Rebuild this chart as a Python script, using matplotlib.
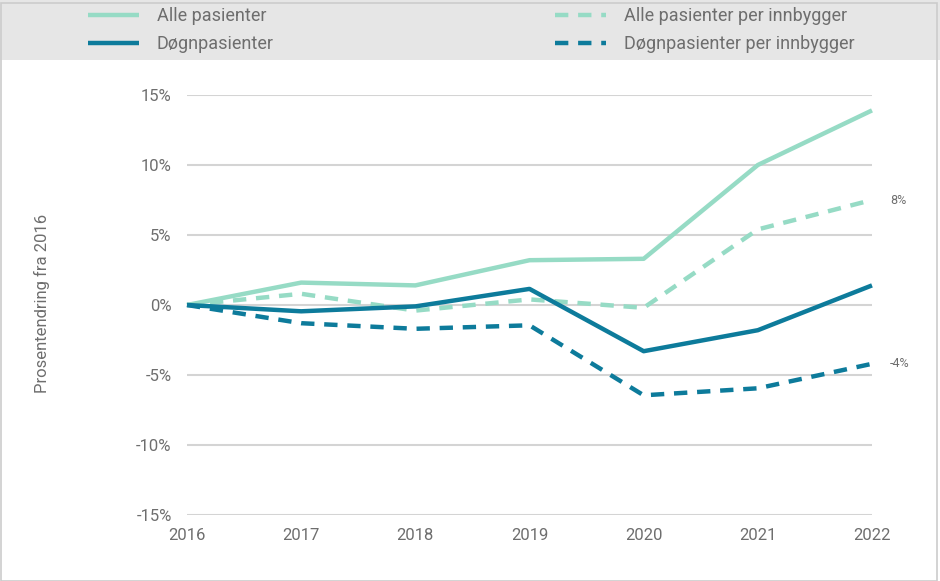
import matplotlib
matplotlib.use("Agg")
import matplotlib.pyplot as plt
from matplotlib.patches import Rectangle

plt.rcParams['font.family'] = ['Roboto', 'DejaVu Sans']

years = [2016, 2017, 2018, 2019, 2020, 2021, 2022]
alle = [0.0, 1.6, 1.4, 3.2, 3.3, 10.0, 13.9]
alle_per_innb = [0.0, 0.8, -0.4, 0.4, -0.2, 5.4, 7.5]
dogn = [0.0, -0.45, -0.1, 1.15, -3.3, -1.8, 1.4]
dogn_per_innb = [0.0, -1.3, -1.7, -1.45, -6.45, -5.95, -4.2]
yticks = [-15, -10, -5, 0, 5, 10, 15]

light = '#96dbc5'
dark = '#0d7b9b'
grid_c = '#d4d4d4'
txt_c = '#6e6e6e'
fw = 'normal'

fig = plt.figure(figsize=(9.4, 5.81), dpi=100)
fig.patch.set_facecolor('white')
fig.add_artist(Rectangle((0, 1 - 60 / 581), 1, 60 / 581, transform=fig.transFigure,
                         facecolor='#e6e6e6', edgecolor='none', zorder=0))
fig.add_artist(Rectangle((0.5 / 940, 0.5 / 581), 1 - 3.5 / 940, 1 - 3 / 581, transform=fig.transFigure,
                         facecolor='none', edgecolor='#cccccc', lw=1.2, zorder=5))

ax = fig.add_axes([187 / 940, 1 - 515 / 581, (872 - 187) / 940, (515 - 95) / 581])
ax.set_xlim(2016, 2022)
ax.set_ylim(-15, 15)
ax.set_yticks(yticks)
ax.set_yticklabels([f"{t}%" for t in yticks])
ax.set_xticks(years)
ax.set_xticklabels([str(y) for y in years])
ax.grid(axis='y', color=grid_c, lw=1.5)
ax.set_axisbelow(True)
for s in ax.spines.values():
    s.set_visible(False)
ax.tick_params(length=0, labelsize=12, labelcolor=txt_c)
for lab in ax.get_xticklabels() + ax.get_yticklabels():
    lab.set_fontweight(fw)
ax.tick_params(axis='x', pad=9)
ax.tick_params(axis='y', pad=11)

lw = 3.2
dash = (3.0, 2.2)
h1, = ax.plot(years, alle, color=light, lw=lw, solid_capstyle='butt', clip_on=False)
h3, = ax.plot(years, alle_per_innb, color=light, lw=lw, dashes=dash, clip_on=False)
h2, = ax.plot(years, dogn, color=dark, lw=lw, solid_capstyle='butt', clip_on=False)
h4, = ax.plot(years, dogn_per_innb, color=dark, lw=lw, dashes=dash, clip_on=False)

for vals in (alle_per_innb, dogn_per_innb):
    ax.annotate(f"{round(vals[-1]):.0f}%", xy=(years[-1], vals[-1]), xytext=(13, 0),
                textcoords='offset points', va='center', ha='left', fontsize=9,
                color=txt_c, fontweight=fw)

fig.text(42 / 940, 1 - 303 / 581, 'Prosentendring fra 2016', rotation=90, ha='center',
         va='center', fontsize=12, color=txt_c, fontweight=fw)

leg_kw = dict(frameon=False, handlelength=2.8, handletextpad=1.0,
              labelspacing=0.55, borderpad=0, borderaxespad=0, loc='upper left',
              prop={'weight': fw, 'size': 13})
l1 = fig.legend([h1, h2], ['Alle pasienter', 'Døgnpasienter'],
                bbox_to_anchor=(88 / 940, 1 - 7 / 581), **leg_kw)
l2 = fig.legend([h3, h4], ['Alle pasienter per innbygger', 'Døgnpasienter per innbygger'],
                bbox_to_anchor=(555 / 940, 1 - 7 / 581), **leg_kw)
for lg in (l1, l2):
    for t in lg.get_texts():
        t.set_color(txt_c)

fig.savefig('out.png', dpi=100, facecolor='white')
